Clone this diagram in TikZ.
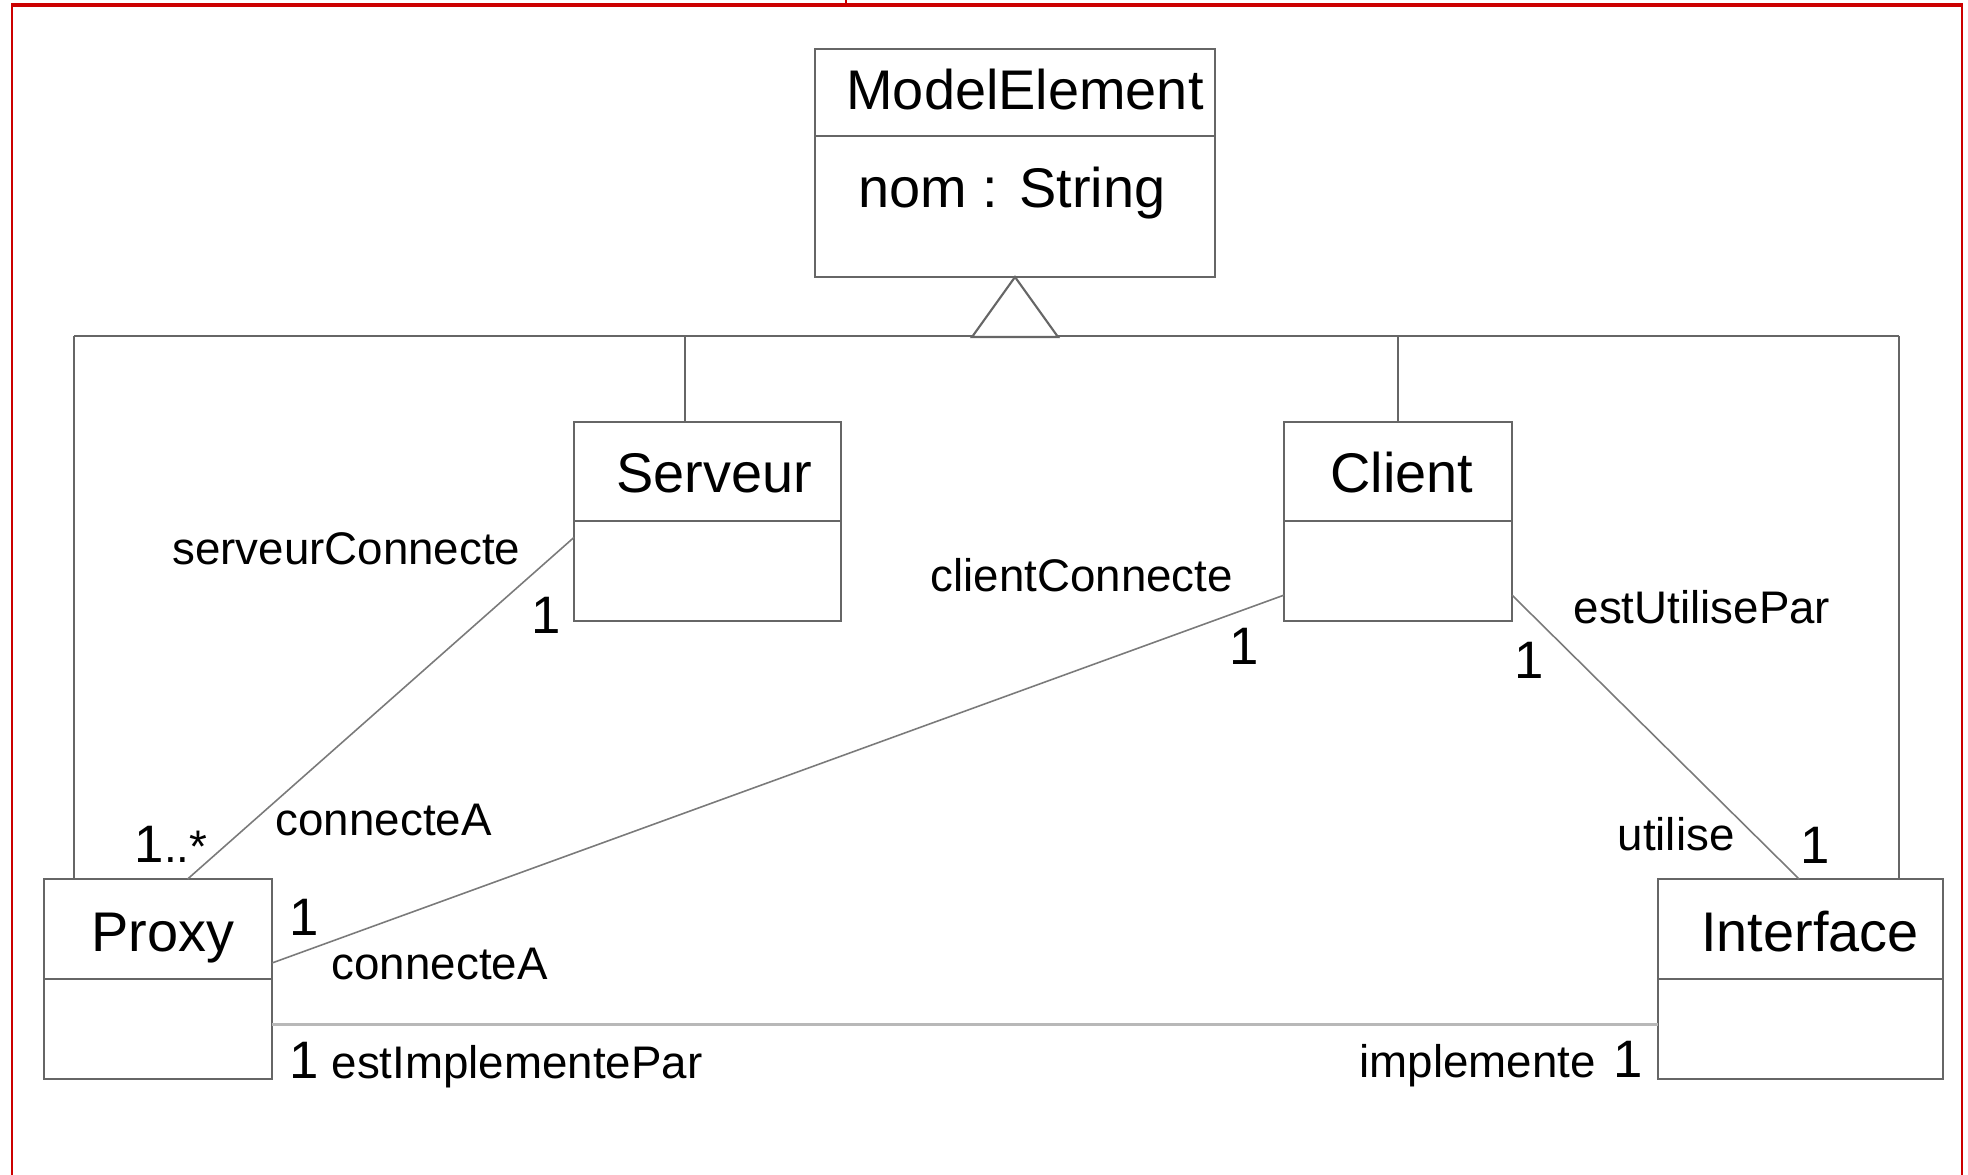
\documentclass[tikz,border=0pt]{standalone}
\usepackage{fontspec}
\setmainfont{Liberation Sans}
\usepackage{tikz}
\usetikzlibrary{calc}

\definecolor{framered}{HTML}{CC0000}
\definecolor{boxgray}{HTML}{666666}
\definecolor{linegray}{HTML}{7A7A7A}
\definecolor{palegray}{HTML}{B8B8B8}

\begin{document}
\begin{tikzpicture}[x=0.1mm, y=-0.1mm,
  classbox/.style={draw=boxgray, line width=0.75pt, inner sep=0pt, outer sep=0pt, anchor=north west},
  clsname/.style={font=\fontsize{15.9}{18}\selectfont, inner sep=0pt, anchor=base},
  role/.style={font=\fontsize{13}{15}\selectfont, inner sep=0pt, anchor=base west},
  mult/.style={font=\fontsize{15}{17}\selectfont, inner sep=0pt, anchor=base},
  assoc/.style={draw=linegray, line width=0.45pt},
  genline/.style={draw=boxgray, line width=0.6pt}]
\useasboundingbox (0,0) rectangle (1968,1175);

\draw[framered, line width=0.6pt] (12,1175) -- (12,5);
\draw[framered, line width=0.6pt] (1962,1175) -- (1962,5);
\draw[framered, line width=0.9pt] (11,5) -- (1963,5);
\draw[framered, line width=0.6pt] (846,0) -- (846,5);

\node[classbox, minimum width=40mm, minimum height=22.8mm] (me) at (815,49) {};
\node[classbox, minimum width=26.7mm, minimum height=19.9mm] (serveur) at (574,422) {};
\node[classbox, minimum width=22.8mm, minimum height=19.9mm] (client) at (1284,422) {};
\node[classbox, minimum width=22.8mm, minimum height=20mm] (proxy) at (44,879) {};
\node[classbox, minimum width=28.5mm, minimum height=20mm] (interface) at (1658,879) {};

\draw[boxgray, line width=0.75pt] ($(me.north west)+(0,87)$) -- ($(me.north east)+(0,87)$);
\draw[boxgray, line width=0.75pt] ($(serveur.north west)+(0,99)$) -- ($(serveur.north east)+(0,99)$);
\draw[boxgray, line width=0.75pt] ($(client.north west)+(0,99)$) -- ($(client.north east)+(0,99)$);
\draw[boxgray, line width=0.75pt] ($(proxy.north west)+(0,100)$) -- ($(proxy.north east)+(0,100)$);
\draw[boxgray, line width=0.75pt] ($(interface.north west)+(0,100)$) -- ($(interface.north east)+(0,100)$);

\node[clsname] (mename) at (1025,110) {ModelElement};
\node[clsname] (meattr) at (1012,208) {nom : String};
\node[clsname] (serveurname) at (714,493) {Serveur};
\node[clsname] (clientname) at (1402,493) {Client};
\node[clsname] (proxyname) at (163,951) {Proxy};
\node[clsname] (interfacename) at (1810,951) {Interface};

\coordinate (busL) at (74,336);
\coordinate (busR) at (1899,336);
\draw[genline] (busL) -- (busR);
\draw[genline] (busL) -- (busL |- proxy.north);
\draw[genline] (busR) -- (busR |- interface.north);
\draw[genline] ($(serveur.north west)!0.416!(serveur.north east)$) -- ++(0,-86);
\draw[genline] (client.north) -- ++(0,-86);
\draw[genline, fill=white] (me.south) -- ++(-43,60) -- ++(86,0) -- cycle;

\draw[assoc] ($(serveur.north west)!0.58!(serveur.south west)$) -- ($(proxy.north west)!0.63!(proxy.north east)$);
\draw[assoc] ($(client.north west)!0.87!(client.south west)$) -- ($(proxy.north east)!0.42!(proxy.south east)$);
\draw[assoc] ($(client.north east)!0.87!(client.south east)$) -- ($(interface.north west)!0.495!(interface.north east)$);
\draw[draw=palegray, line width=0.85pt] ($(proxy.north east)!0.725!(proxy.south east)$) -- ($(interface.north west)!0.725!(interface.south west)$);

\node[role, anchor=base east] (rserveur) at (521,565) {serveurConnecte};
\node[mult] (mserveur) at (546,634) {1};
\node[mult, anchor=base west] (mproxyA) at (134,862) {1{\fontsize{13}{15}\selectfont..*}};
\node[role] (rconnA) at (275,835) {connecteA};

\node[role] (rclient) at (930,592) {clientConnecte};
\node[mult] (mclientL) at (1244,665) {1};
\node[mult] (mproxyB) at (304,935) {1};
\node[role] (rconnB) at (331,979) {connecteA};

\node[role] (rutilisePar) at (1573,624) {estUtilisePar};
\node[mult] (mclientR) at (1529,678) {1};
\node[role] (rutilise) at (1617,850) {utilise};
\node[mult] (minterfaceA) at (1815,863) {1};

\node[mult] (mproxyC) at (304,1078) {1};
\node[role] (rimplPar) at (331,1078) {estImplementePar};
\node[role] (rimpl) at (1359,1077) {implemente};
\node[mult] (minterfaceB) at (1628,1077) {1};
\end{tikzpicture}
\end{document}
